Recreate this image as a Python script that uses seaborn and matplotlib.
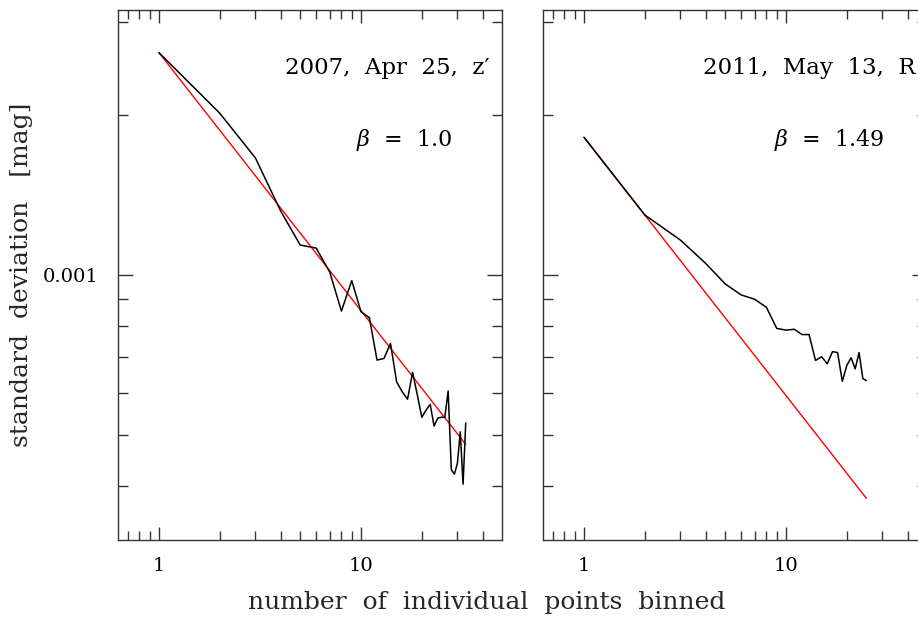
import numpy as np
import pandas as pd
import matplotlib
matplotlib.use("Agg")
import matplotlib.pyplot as plt
import matplotlib.ticker as mticker
import seaborn as sns

# ---- data ----
left_n = list(range(1, 34))
left_std = [0.002627, 0.002019, 0.001663, 0.001321, 0.001139, 0.001124, 0.001013,
            0.000855, 0.000976, 0.000852, 0.000831, 0.000691, 0.000696, 0.000743,
            0.000629, 0.000602, 0.000583, 0.000655, 0.000594, 0.000539, 0.000556,
            0.000570, 0.000519, 0.000537, 0.000539, 0.000539, 0.000604, 0.000429,
            0.000421, 0.000441, 0.000506, 0.000403, 0.000526]
left_fit_n = [1, 33]
left_fit_std = [0.002627, 0.000479]

right_n = list(range(1, 26))
right_std = [0.001819, 0.001298, 0.001164, 0.001052, 0.000962, 0.000917, 0.000900,
             0.000869, 0.000793, 0.000787, 0.000790, 0.000772, 0.000772, 0.000690,
             0.000701, 0.000680, 0.000717, 0.000714, 0.000630, 0.000675, 0.000698,
             0.000665, 0.000714, 0.000638, 0.000632]
right_fit_n = [1, 25]
right_fit_std = [0.001819, 0.000379]

panel_titles = ["2007,  Apr  25,  z\u2032", "2011,  May  13,  R"]
panel_betas = ["1.0", "1.49"]
xtick_vals = [1, 10]
xtick_labels = ["1", "10"]
ytick_vals = [0.001]
ytick_labels = ["0.001"]

sns.set_theme(style="ticks")
plt.rcParams["font.family"] = ["DejaVu Serif"]
plt.rcParams["mathtext.fontset"] = "dejavuserif"

W, H = 918, 617
fig = plt.figure(figsize=(W / 100, H / 100), dpi=100)
fig.patch.set_facecolor("white")

def ax_rect(x0, y0, x1, y1):
    return [x0 / W, 1 - y1 / H, (x1 - x0) / W, (y1 - y0) / H]

ax1 = fig.add_axes(ax_rect(118, 10, 502, 540))
ax2 = fig.add_axes(ax_rect(543, 10, 927, 540))

panels = [
    (ax1, left_n, left_std, left_fit_n, left_fit_std),
    (ax2, right_n, right_std, right_fit_n, right_fit_std),
]

spine_col = "#333333"
for i, (ax, n, s, fn, fs) in enumerate(panels):
    ax.set_facecolor("white")
    df = pd.DataFrame({"n": n, "std": s})
    dff = pd.DataFrame({"n": fn, "std": fs})
    sns.lineplot(data=dff, x="n", y="std", ax=ax, color="#ff0000", linewidth=1.0)
    sns.lineplot(data=df, x="n", y="std", ax=ax, color="black", linewidth=1.1)
    ax.set_xscale("log")
    ax.set_yscale("log")
    ax.set_xlim(10 ** -0.203, 10 ** 1.698)
    ax.set_ylim(10 ** -3.5, 10 ** -2.5)
    ax.set_xlabel("")
    ax.set_ylabel("")
    for sp in ax.spines.values():
        sp.set_visible(True)
        sp.set_color(spine_col)
        sp.set_linewidth(1.0)
    ax.xaxis.set_major_locator(mticker.FixedLocator(xtick_vals))
    ax.xaxis.set_minor_locator(mticker.LogLocator(base=10, subs=np.arange(2, 10)))
    ax.xaxis.set_minor_formatter(mticker.NullFormatter())
    ax.set_xticks(xtick_vals)
    ax.set_xticklabels(xtick_labels)
    ax.yaxis.set_major_locator(mticker.FixedLocator(ytick_vals))
    ax.yaxis.set_minor_locator(mticker.LogLocator(base=10, subs=np.arange(2, 10)))
    ax.yaxis.set_minor_formatter(mticker.NullFormatter())
    if i == 0:
        ax.set_yticks(ytick_vals)
        ax.set_yticklabels(ytick_labels)
    else:
        ax.set_yticks(ytick_vals)
        ax.set_yticklabels([])
    ax.tick_params(axis="both", which="both", direction="in", top=True, right=True,
                   color=spine_col, width=1.0, labelsize=14, labelcolor="black")
    ax.tick_params(axis="x", which="major", length=9.5, pad=12)
    ax.tick_params(axis="x", which="minor", length=6.5)
    ax.tick_params(axis="y", which="major", length=10.5, pad=14)
    ax.tick_params(axis="y", which="minor", length=7.2)
    ax.text(0.969, 0.891, panel_titles[i], transform=ax.transAxes,
            ha="right", va="center", fontsize=16.5, color="black")
    ax.text(0.746, 0.755, r"$\beta$  =  " + panel_betas[i], transform=ax.transAxes,
            ha="center", va="center", fontsize=16, color="black")

fig.text(487 / W, 1 - 603 / H, "number  of  individual  points  binned",
         ha="center", va="center", fontsize=18)
fig.text(22 / W, 1 - 275 / H, "standard  deviation   [mag]", rotation=90,
         ha="center", va="center", fontsize=18)

fig.savefig("out.png", dpi=100)
